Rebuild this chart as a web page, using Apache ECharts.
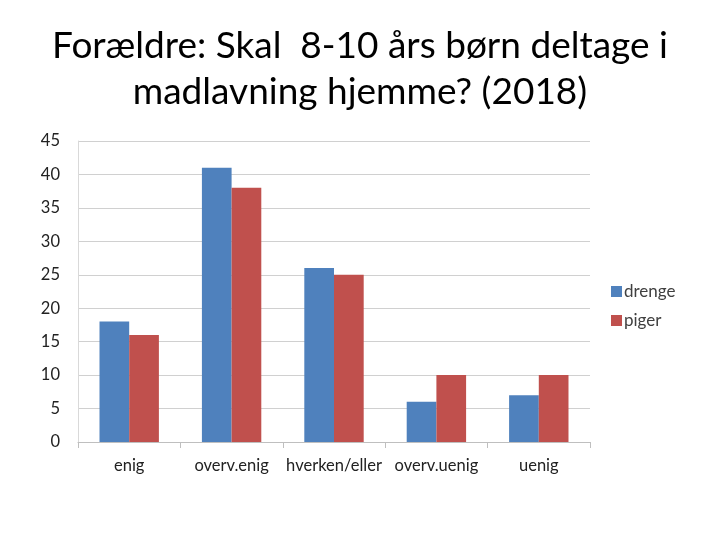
<!DOCTYPE html>
<html><head><meta charset="utf-8">
<script src="https://cdn.jsdelivr.net/npm/echarts@6/dist/echarts.min.js"></script>
<style>html,body{margin:0;padding:0;background:#fff}#c{width:720px;height:540px}</style>
</head><body><div id="c"></div>
<script>
const categories = ['enig', 'overv.enig', 'hverken/eller', 'overv.uenig', 'uenig'];
const drenge = [18, 41, 26, 6, 7];
const piger = [16, 38, 25, 10, 10];
const seriesNames = ['drenge', 'piger'];
const titleText = 'Forældre: Skal  8-10 års børn deltage i\nmadlavning hjemme? (2018)';

const chart = echarts.init(document.getElementById('c'));
chart.setOption({
  animation: false,
  title: {
    text: titleText, left: 'center', top: 18,
    textStyle: { fontFamily: 'Lato', fontWeight: 'normal', fontSize: 37, color: '#000', lineHeight: 46 }
  },
  legend: {
    orient: 'vertical', left: 606, top: 278, itemWidth: 11, itemHeight: 11, itemGap: 12,
    icon: 'rect',
    textStyle: { fontFamily: 'Lato', fontSize: 17, color: '#404040', padding: [0,0,0,-3] },
    data: seriesNames
  },
  grid: { left: 78, right: 130, top: 141, bottom: 98, containLabel: false },
  xAxis: {
    type: 'category', data: categories,
    axisLine: { lineStyle: { color: '#bfbfbf' } },
    axisTick: { show: true, length: 6, lineStyle: { color: '#bfbfbf' } },
    axisLabel: { fontFamily: 'Lato', fontSize: 16.5, color: '#222', margin: 15, interval: 0 }
  },
  yAxis: {
    type: 'value', min: 0, max: 45, interval: 5,
    axisLine: { show: true, lineStyle: { color: '#d9d9d9' } },
    axisTick: { show: false },
    splitLine: { lineStyle: { color: '#d0d0d0' } },
    axisLabel: { fontFamily: 'Lato', fontSize: 16.5, color: '#222', margin: 18 }
  },
  series: [
    { name: seriesNames[0], type: 'bar', data: drenge, barGap: '0%', barCategoryGap: '42%', itemStyle: { color: '#4f81bd' } },
    { name: seriesNames[1], type: 'bar', data: piger, barGap: '0%', barCategoryGap: '42%', itemStyle: { color: '#c0504d' } }
  ]
});
</script></body></html>
